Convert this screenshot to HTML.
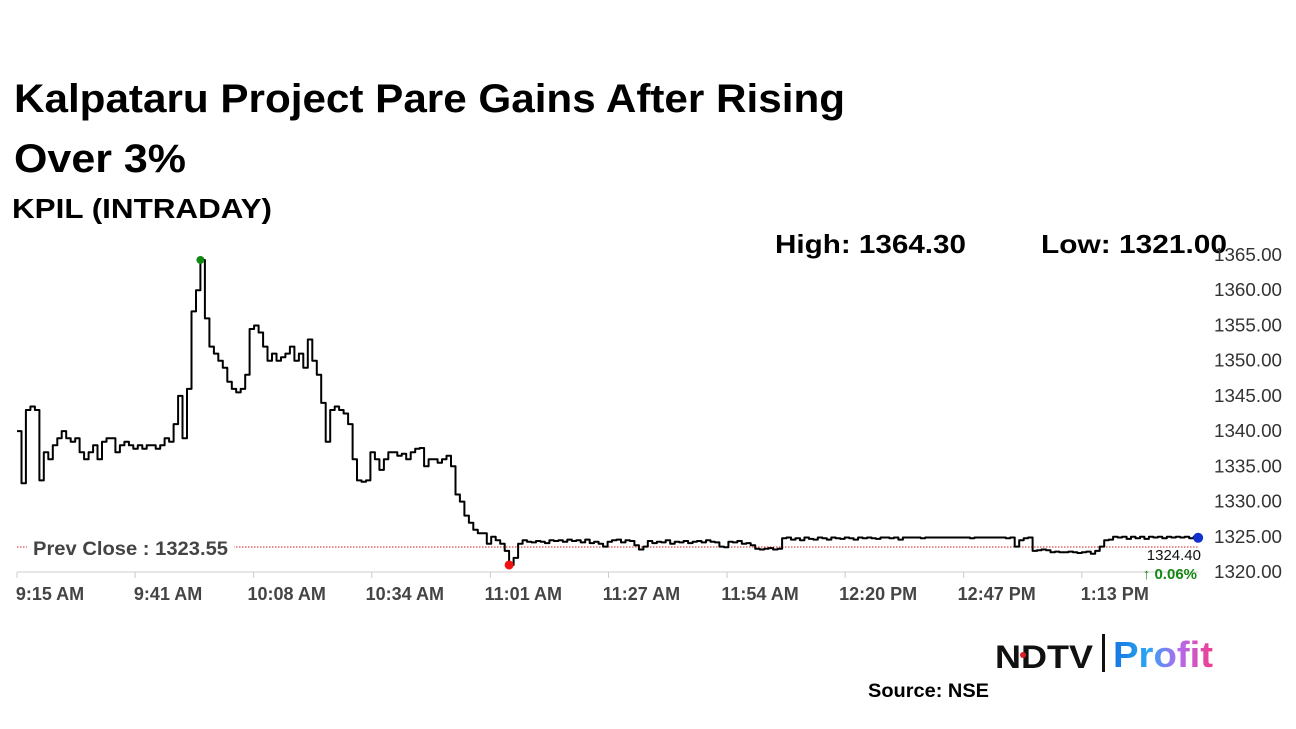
<!DOCTYPE html>
<html><head><meta charset="utf-8"><style>
html,body{margin:0;padding:0;background:#fff;width:1296px;height:729px;overflow:hidden}
svg{display:block}
text{font-family:"Liberation Sans",sans-serif}
</style></head><body>
<svg id="kpilChart" width="1296" height="729" xmlns="http://www.w3.org/2000/svg">
<defs><linearGradient id="pg" x1="0" x2="1" y1="0" y2="0"><stop offset="0" stop-color="#1576e0"/><stop offset="0.35" stop-color="#2aa6f2"/><stop offset="0.65" stop-color="#b06cf0"/><stop offset="1" stop-color="#f23c8c"/></linearGradient></defs>
<text x="14" y="112" font-size="40" font-weight="bold" fill="#000" textLength="831" lengthAdjust="spacingAndGlyphs">Kalpataru Project Pare Gains After Rising</text>
<text x="14" y="172" font-size="40" font-weight="bold" fill="#000" textLength="172" lengthAdjust="spacingAndGlyphs">Over 3%</text>
<text x="12" y="218" font-size="28" font-weight="bold" fill="#000" textLength="260" lengthAdjust="spacingAndGlyphs">KPIL (INTRADAY)</text>
<text x="775" y="253" font-size="26" font-weight="bold" fill="#000" textLength="191" lengthAdjust="spacingAndGlyphs">High: 1364.30</text>
<text x="1041" y="253" font-size="26" font-weight="bold" fill="#000" textLength="186" lengthAdjust="spacingAndGlyphs">Low: 1321.00</text>
<g id="kpilAxes"></g>
<g id="kpilSeries"></g>
<g>
<text x="995" y="668" font-size="32" font-weight="bold" fill="#111" textLength="98" lengthAdjust="spacingAndGlyphs">NDTV</text>
<circle cx="1023" cy="655" r="3" fill="#e02020"/>
<rect x="1102" y="634" width="3" height="38" fill="#111"/>
<text x="1113" y="667" font-size="36" font-weight="bold" fill="url(#pg)" textLength="100" lengthAdjust="spacingAndGlyphs">Profit</text>
</g>
<text x="868" y="697" font-size="19" font-weight="bold" fill="#000" textLength="121" lengthAdjust="spacingAndGlyphs">Source: NSE</text>
</svg>
<script>
var kpilXTickLabels=["9:15 AM","9:41 AM","10:08 AM","10:34 AM","11:01 AM","11:27 AM","11:54 AM","12:20 PM","12:47 PM","1:13 PM"];
var kpilXTickMinutes=[0,26.4,52.9,79.3,105.8,132.2,158.7,185.1,211.6,238];
var kpilYTicks=[1320,1325,1330,1335,1340,1345,1350,1355,1360,1365];
var kpilPrevClose=1323.55;
var kpilLastPrice=1324.40;
var kpilChangePct=0.06;
var kpilPrices=[
1340,1332.6,1343,1343.5,1343,1333,1337,1336,1338,1339,
1340,1339,1338.5,1339,1337,1336,1337,1338,1336,1338.5,
1339,1339,1337,1338,1338.5,1338,1337.5,1338,1337.5,1338,
1338,1337.5,1338,1339,1338.5,1341,1345,1339,1346,1357,
1360,1364.3,1356,1352,1351,1350,1349,1347,1346,1345.5,
1346,1348,1354.5,1355,1354,1352,1350,1351,1350,1350.5,
1351,1352,1350,1351,1349,1353,1350,1348,1344,1338.5,
1343,1343.5,1343,1342.5,1341,1336,1333,1332.8,1333,1337,
1336,1334.5,1336,1337,1337,1336.5,1336.8,1336,1337,1337.5,
1337.6,1335,1336,1336,1335.5,1336,1336.5,1335,1331,1330,
1328,1327,1326,1325.5,1325.5,1324,1325,1324.5,1324,1323,
1321,1322,1324,1324.5,1324.3,1324.2,1324.4,1324.3,1324.1,1324.5,
1324.4,1324.5,1324.3,1324.6,1324.4,1324.5,1324.2,1324.6,1324.1,1324.3,
1324,1323.6,1324.3,1324.5,1324.6,1324.2,1324.5,1324.4,1323.8,1323.2,
1323.6,1324.4,1324.1,1324.3,1324.2,1324.5,1324,1324.3,1324.2,1324.4,
1324.1,1324.3,1324.4,1324.2,1324.5,1324.3,1324.2,1323.6,1323.5,1324.3,
1324.2,1324.4,1324,1324.1,1323.8,1323.3,1323.2,1323.3,1323.4,1323.2,
1323.3,1324.8,1324.9,1324.6,1324.8,1324.5,1324.9,1324.7,1324.6,1324.9,
1324.8,1324.6,1324.9,1324.8,1324.7,1324.9,1324.8,1324.6,1324.9,1324.8,
1324.9,1324.8,1324.7,1324.9,1324.9,1324.8,1324.9,1324.6,1324.9,1324.9,
1324.9,1324.9,1324.8,1324.9,1324.9,1324.9,1324.9,1324.9,1324.9,1324.9,
1324.9,1324.9,1324.9,1324.8,1324.9,1324.9,1324.9,1324.9,1324.9,1324.9,
1324.9,1324.8,1324.9,1323.6,1324.5,1324.8,1324.9,1323,1323.1,1323.2,
1323.1,1322.8,1322.9,1322.8,1322.8,1322.9,1322.8,1322.7,1322.8,1322.9,
1322.6,1323,1323.6,1324.5,1324.6,1325,1324.9,1325,1324.7,1325,
1324.8,1325,1324.7,1325,1324.9,1325,1324.8,1325,1324.9,1325,
1324.9,1325,1324.8,1325,1325];
(function(){
var SVGNS="http://www.w3.org/2000/svg";
var X0=17,PXM=4.474,Y0=572,PXU=7.044;
function xs(m){return X0+m*PXM;}
function ys(v){return Y0-(v-1320)*PXU;}
function mk(tag,attrs,parent,txt){var e=document.createElementNS(SVGNS,tag);for(var k in attrs){e.setAttribute(k,attrs[k]);}if(txt!==undefined){e.textContent=txt;}parent.appendChild(e);return e;}
var axes=document.getElementById('kpilAxes');
var ser=document.getElementById('kpilSeries');
var n=kpilPrices.length;
var lastX=xs(n-1);
var base=mk('line',{x1:X0,x2:lastX,y1:Y0,y2:Y0,stroke:'#ddd','stroke-width':1.5},axes);


for(var i=0;i<kpilXTickMinutes.length;i++){
 var m=kpilXTickMinutes[i];
 var t=mk('line',{x1:xs(m),x2:xs(m),y1:Y0,y2:Y0+6,stroke:'#ccc','stroke-width':1},axes);
 
 
 var l=mk('text',{x:xs(m)+33,y:600,'font-size':18,'font-weight':'bold',fill:'#444','text-anchor':'middle'},axes,kpilXTickLabels[i]);
 
 
}
for(var j=0;j<kpilYTicks.length;j++){
 var v=kpilYTicks[j];
 var yl=mk('text',{x:1214,y:ys(v)+6,'font-size':18,fill:'#333',textLength:68,lengthAdjust:'spacingAndGlyphs'},axes,v.toFixed(2));
 
 
}
var pc=mk('line',{x1:X0,x2:lastX,y1:ys(kpilPrevClose),y2:ys(kpilPrevClose),stroke:'#d02020','stroke-width':1,'stroke-dasharray':'1.5,1.5'},axes);


mk('rect',{x:27,y:ys(kpilPrevClose)-12,width:207,height:24,fill:'#fff'},axes);
var pcl=mk('text',{x:33,y:ys(kpilPrevClose)+8,'font-size':19,'font-weight':'bold',fill:'#444',textLength:195,lengthAdjust:'spacingAndGlyphs'},axes,'Prev Close : '+kpilPrevClose.toFixed(2));


var d='M'+xs(0).toFixed(1)+','+ys(kpilPrices[0]).toFixed(1);
for(var k=1;k<n;k++){d+='H'+xs(k).toFixed(1)+'V'+ys(kpilPrices[k]).toFixed(1);}
var ln=mk('path',{d:d,fill:'none',stroke:'#000','stroke-width':2,'stroke-linejoin':'round'},ser);


var hi=0,lo=0;
for(var q=0;q<n;q++){if(kpilPrices[q]>kpilPrices[hi])hi=q;if(kpilPrices[q]<kpilPrices[lo])lo=q;}
var hd=mk('circle',{cx:xs(hi),cy:ys(kpilPrices[hi]),r:4,fill:'#118811'},ser);


var ld=mk('circle',{cx:xs(lo),cy:ys(kpilPrices[lo]),r:4.5,fill:'#f01010'},ser);


var ed=mk('circle',{cx:lastX,cy:ys(kpilPrices[n-1])+1,r:5,fill:'#1030d0'},ser);


var lp=mk('text',{x:1201,y:560,'font-size':15,fill:'#111','text-anchor':'end'},ser,kpilLastPrice.toFixed(2));


var cp=mk('text',{x:1197,y:579,'font-size':15,'font-weight':'bold',fill:'#118811','text-anchor':'end'},ser,'\u2191 '+kpilChangePct.toFixed(2)+'%');


})();
</script>
</body></html>
